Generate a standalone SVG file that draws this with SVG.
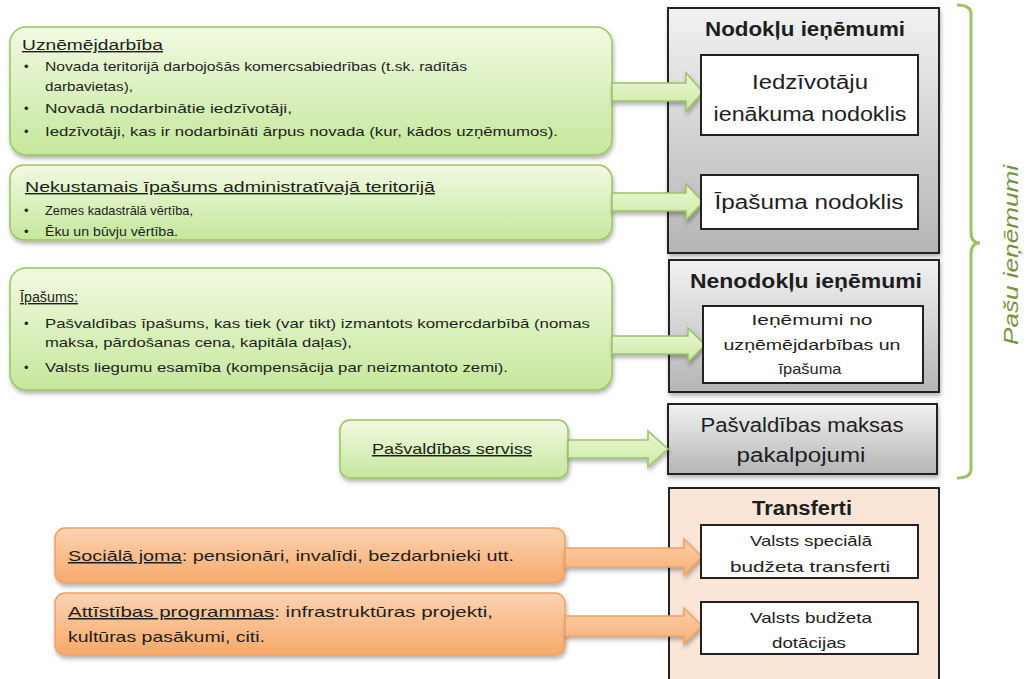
<svg xmlns="http://www.w3.org/2000/svg" width="1028" height="679" viewBox="0 0 1028 679">
<defs>
<linearGradient id="gGreen" x1="0" y1="0" x2="0" y2="1"><stop offset="0" stop-color="#f1fae2"/><stop offset="1" stop-color="#c6e79c"/></linearGradient>
<linearGradient id="gOrange" x1="0" y1="0" x2="0" y2="1"><stop offset="0" stop-color="#fcd3b2"/><stop offset="1" stop-color="#f7a96a"/></linearGradient>
<linearGradient id="gGray" x1="0" y1="0" x2="0" y2="1"><stop offset="0" stop-color="#f2f2f2"/><stop offset="1" stop-color="#b5b5b5"/></linearGradient>
<linearGradient id="gArrowG" x1="0" y1="0" x2="0" y2="1"><stop offset="0" stop-color="#eaf7d3"/><stop offset="1" stop-color="#cdeaa6"/></linearGradient>
<linearGradient id="gArrowO" x1="0" y1="0" x2="0" y2="1"><stop offset="0" stop-color="#fbcfa9"/><stop offset="1" stop-color="#f8b07a"/></linearGradient>
<filter id="sh" x="-5%" y="-10%" width="110%" height="130%"><feDropShadow dx="1" dy="3" stdDeviation="2" flood-color="#000" flood-opacity="0.3"/></filter>
</defs>
<style>
.gbox{fill:url(#gGreen);stroke:#9bc462;stroke-width:1.5;filter:url(#sh)}
.obox{fill:url(#gOrange);stroke:#f3a060;stroke-width:1.5;filter:url(#sh)}
.graybox{fill:url(#gGray);stroke:#222;stroke-width:2;filter:url(#sh)}
.peach{fill:#fbe5d6;stroke:#222;stroke-width:2}
.inner{fill:#fff;stroke:#222;stroke-width:2}
.garrow{fill:url(#gArrowG);stroke:#9bc462;stroke-width:1.5;filter:url(#sh)}
.oarrow{fill:url(#gArrowO);stroke:#f3a060;stroke-width:1.5;filter:url(#sh)}
text{font-family:"Liberation Sans",Arial,sans-serif;fill:#1e1e1e}
.s{font-size:13px}
.h{font-size:14px;text-decoration:underline}
.t{font-size:20px;font-weight:bold;text-anchor:middle}
.c{font-size:20px;text-anchor:middle}
.m{font-size:15px;text-anchor:middle}
.v{font-size:15px}
</style>

<g id="src-uznemejdarbiba">
<rect class="gbox" x="10" y="27" width="602" height="128" rx="16"/>
<text class="h" x="22" y="50" textLength="141" lengthAdjust="spacingAndGlyphs">Uznēmējdarbība</text>
<text class="s" x="24" y="71">•</text><text class="s" x="45" y="71" textLength="422" lengthAdjust="spacingAndGlyphs">Novada teritorijā darbojošās komercsabiedrības (t.sk. radītās</text>
<text class="s" x="45" y="91" textLength="88" lengthAdjust="spacingAndGlyphs">darbavietas),</text>
<text class="s" x="24" y="113">•</text><text class="s" x="45" y="113" textLength="247" lengthAdjust="spacingAndGlyphs">Novadā nodarbinātie iedzīvotāji,</text>
<text class="s" x="24" y="136">•</text><text class="s" x="45" y="136" textLength="513" lengthAdjust="spacingAndGlyphs">Iedzīvotāji, kas ir nodarbināti ārpus novada (kur, kādos uzņēmumos).</text>
</g>

<g id="src-nekustamais">
<rect class="gbox" x="10" y="165" width="602" height="75" rx="14"/>
<text class="h" x="25" y="192" textLength="410" lengthAdjust="spacingAndGlyphs">Nekustamais  īpašums administratīvajā  teritorijā</text>
<text class="s" x="24" y="215">•</text><text class="s" x="45" y="215" textLength="148" lengthAdjust="spacingAndGlyphs">Zemes kadastrālā  vērtība,</text>
<text class="s" x="24" y="236">•</text><text class="s" x="45" y="236" textLength="133" lengthAdjust="spacingAndGlyphs">Ēku un būvju vērtība.</text>
</g>

<g id="src-ipasums">
<rect class="gbox" x="10" y="268" width="602" height="122" rx="16"/>
<text class="h" x="20" y="302" textLength="58" lengthAdjust="spacingAndGlyphs">Īpašums:</text>
<text class="s" x="24" y="328">•</text><text class="s" x="45" y="328" textLength="545" lengthAdjust="spacingAndGlyphs">Pašvaldības īpašums, kas tiek (var tikt) izmantots komercdarbībā (nomas</text>
<text class="s" x="45" y="347" textLength="307" lengthAdjust="spacingAndGlyphs">maksa, pārdošanas cena, kapitāla daļas),</text>
<text class="s" x="24" y="372">•</text><text class="s" x="45" y="372" textLength="463" lengthAdjust="spacingAndGlyphs">Valsts liegumu esamība (kompensācija par neizmantoto zemi).</text>
</g>

<g id="src-serviss">
<rect class="gbox" x="340" y="420" width="228" height="58" rx="10"/>
<text class="h" x="372" y="454" style="font-size:15px" textLength="160" lengthAdjust="spacingAndGlyphs">Pašvaldības serviss</text>
</g>

<g id="src-sociala">
<rect class="obox" x="55" y="528" width="510" height="55" rx="10"/>
<text class="v" x="68" y="561" textLength="446" lengthAdjust="spacingAndGlyphs"><tspan text-decoration="underline">Sociālā joma</tspan>:  pensionāri,  invalīdi,  bezdarbnieki  utt.</text>
</g>

<g id="src-attistibas">
<rect class="obox" x="55" y="593" width="510" height="62" rx="10"/>
<text class="v" x="68" y="617" textLength="425" lengthAdjust="spacingAndGlyphs"><tspan text-decoration="underline">Attīstības programmas</tspan>:  infrastruktūras projekti,</text>
<text class="v" x="68" y="642" textLength="197" lengthAdjust="spacingAndGlyphs">kultūras pasākumi, citi.</text>
</g>

<g id="nodoklu">
<rect class="graybox" x="668" y="8" width="271" height="245"/>
<text class="t" x="805" y="36" textLength="200" lengthAdjust="spacingAndGlyphs">Nodokļu ieņēmumi</text>
</g>

<g id="nenodoklu">
<rect class="graybox" x="669" y="260" width="270" height="132"/>
<text class="t" x="806" y="288" textLength="232" lengthAdjust="spacingAndGlyphs">Nenodokļu ieņēmumi</text>
</g>

<g id="maksas">
<rect class="graybox" x="668" y="404" width="269" height="70"/>
<text class="c" x="802" y="432" textLength="203" lengthAdjust="spacingAndGlyphs">Pašvaldības maksas</text>
<text class="c" x="801" y="462" textLength="129" lengthAdjust="spacingAndGlyphs">pakalpojumi</text>
</g>

<g id="transferti">
<rect class="peach" x="669" y="488" width="270" height="200"/>
<text class="t" x="802" y="515" textLength="100" lengthAdjust="spacingAndGlyphs">Transferti</text>
</g>

<g id="connectors">
<path class="garrow" d="M612,83 H686 V73 L703,92 L686,111 V101 H612 Z"/>
<path class="garrow" d="M612,193 H686 V184 L703,202 L686,220 V211 H612 Z"/>
<path class="garrow" d="M612,336 H688 V328 L705,345 L688,362 V354 H612 Z"/>
<path class="garrow" d="M568,440 H648 V431 L668,449 L648,467 V458 H568 Z"/>
<path class="oarrow" d="M565,548 H684 V539 L702,557 L684,575 V567 H565 Z"/>
<path class="oarrow" d="M565,616 H684 V608 L702,626 L684,644 V636 H565 Z"/>
</g>

<g id="iin">
<rect class="inner" x="701" y="55" width="217" height="80"/>
<text class="c" x="810" y="89" textLength="116" lengthAdjust="spacingAndGlyphs">Iedzīvotāju</text>
<text class="c" x="810" y="121" textLength="193" lengthAdjust="spacingAndGlyphs">ienākuma nodoklis</text>
</g>
<g id="ipasuma-nodoklis">
<rect class="inner" x="701" y="175" width="217" height="54"/>
<text class="c" x="809" y="209" textLength="189" lengthAdjust="spacingAndGlyphs">Īpašuma nodoklis</text>
</g>
<g id="ienemumi-no">
<rect class="inner" x="703" y="306" width="220" height="77"/>
<text class="m" x="812" y="325" textLength="121" lengthAdjust="spacingAndGlyphs">Ieņēmumi  no</text>
<text class="m" x="812" y="350" textLength="177" lengthAdjust="spacingAndGlyphs">uzņēmējdarbības  un</text>
<text class="m" x="810" y="374" textLength="63" lengthAdjust="spacingAndGlyphs">īpašuma</text>
</g>
<g id="specialais">
<rect class="inner" x="701" y="525" width="217" height="53"/>
<text class="m" x="811" y="546" textLength="122" lengthAdjust="spacingAndGlyphs">Valsts speciālā</text>
<text class="m" x="810" y="572" textLength="160" lengthAdjust="spacingAndGlyphs">budžeta transferti</text>
</g>
<g id="dotacijas">
<rect class="inner" x="701" y="602" width="217" height="52"/>
<text class="m" x="811" y="623" textLength="122" lengthAdjust="spacingAndGlyphs">Valsts budžeta</text>
<text class="m" x="809" y="648" textLength="74" lengthAdjust="spacingAndGlyphs">dotācijas</text>
</g>

<g id="pasu-ienemumi">
<path d="M957,5 Q971,5 971,14 V232 Q971,243 980,243 M957,478 Q971,478 971,469 V254 Q971,243 980,243" fill="none" stroke="#9bc462" stroke-width="3"/>
<text x="1018" y="255" transform="rotate(-90 1018 255)" text-anchor="middle" textLength="180" lengthAdjust="spacingAndGlyphs" style="font-size:21px;font-style:italic;fill:#77933c">Pašu ieņēmumi</text>
</g>
</svg>
